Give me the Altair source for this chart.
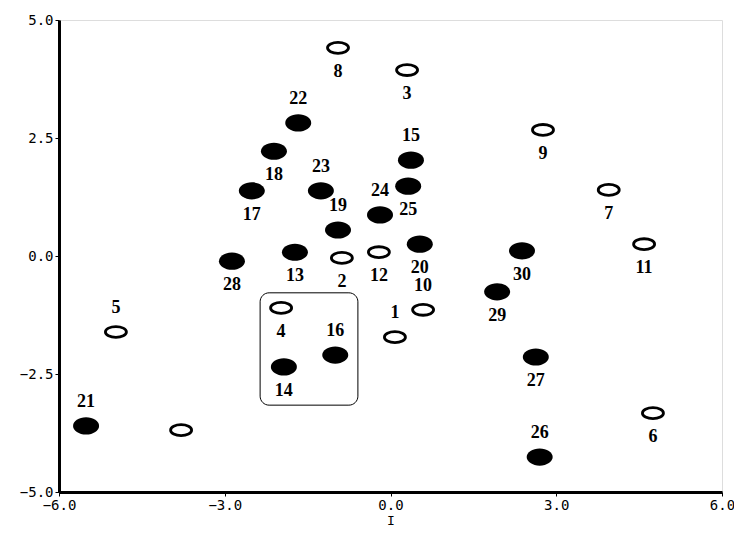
import altair as alt
import pandas as pd

ids = [8, 3, 22, 9, 15, 18, 23, 17, 25, 7, 24, 19, 11, 20, 30, 13, 12, 2, 28, 29,
       4, 10, 5, 1, 16, 27, 14, 6, 21, 0, 26]
xs = [-0.95, 0.30, -1.67, 2.76, 0.37, -2.11, -1.26, -2.51, 0.32, 3.95, -0.19, -0.95,
      4.59, 0.53, 2.38, -1.73, -0.21, -0.88, -2.87, 1.93, -1.98, 0.59, -4.97, 0.08,
      -1.00, 2.63, -1.93, 4.75, -5.51, -3.79, 2.70]
ys = [4.41, 3.94, 2.82, 2.67, 2.03, 2.22, 1.38, 1.38, 1.48, 1.40, 0.87, 0.55,
      0.25, 0.25, 0.11, 0.08, 0.08, -0.04, -0.11, -0.76, -1.10, -1.14, -1.61, -1.72,
      -2.10, -2.14, -2.35, -3.33, -3.60, -3.69, -4.26]
filled = [False, False, True, False, True, True, True, True, True, False, True, True,
          False, True, True, True, False, False, True, True, False, False, False, False,
          True, True, True, False, True, False, True]
label_pos = ["below", "below", "above", "below", "above", "below", "above", "below", "below",
             "below", "above", "above", "below", "below", "below", "below", "below", "below",
             "below", "below", "below", "above", "above", "above", "above", "below", "below",
             "below", "above", "none", "above"]

box_x = [-2.36, -0.59]
box_y = [-3.16, -0.78]

x_ticks = [-6.0, -3.0, 0.0, 3.0, 6.0]
y_ticks = [-5.0, -2.5, 0.0, 2.5, 5.0]

df = pd.DataFrame({"id": ids, "x": xs, "y": ys, "filled": filled, "pos": label_pos})
df["label"] = df["id"].apply(lambda v: "" if v == 0 else str(v))
box = pd.DataFrame({"x": [box_x[0]], "x2": [box_x[1]], "y": [box_y[0]], "y2": [box_y[1]]})

xscale = alt.Scale(domain=[-6, 6], nice=False, zero=False)
yscale = alt.Scale(domain=[-5, 5], nice=False, zero=False)

axis_font = "DejaVu Sans Mono"
xaxis = alt.Axis(values=x_ticks, format=".1f", title="I", grid=False, domainColor="black",
                 domainWidth=3, tickColor="black", tickSize=4, labelFont=axis_font,
                 labelFontSize=14, labelColor="black", labelPadding=2, titleFont=axis_font,
                 titleFontSize=13, titleFontWeight="normal", titleColor="black",
                 titlePadding=2, labelFlush=False)
yaxis = alt.Axis(values=y_ticks, format=".1f", title=None, grid=False, domainColor="black",
                 domainWidth=3, tickColor="black", tickSize=4, labelFont=axis_font,
                 labelFontSize=14, labelColor="black", labelPadding=2, labelFlush=False)

base = alt.Chart(df)

open_path = "M-1,0 A1,0.52 0 1,1 1,0 A1,0.52 0 1,1 -1,0 Z"
fill_path = "M-1,0 A1,0.66 0 1,1 1,0 A1,0.66 0 1,1 -1,0 Z"

open_pts = base.transform_filter("!datum.filled").mark_point(
    shape=open_path, size=441, filled=False, stroke="black", strokeWidth=2.8, opacity=1
).encode(x=alt.X("x:Q", scale=xscale, axis=xaxis), y=alt.Y("y:Q", scale=yscale, axis=yaxis))

fill_pts = base.transform_filter("datum.filled").mark_point(
    shape=fill_path, size=676, filled=True, fill="black", stroke=None, opacity=1
).encode(x=alt.X("x:Q", scale=xscale), y=alt.Y("y:Q", scale=yscale))

label_font = "Liberation Serif"
above = base.transform_filter("datum.pos == 'above'").mark_text(
    font=label_font, fontSize=18, fontWeight="bold", color="black", dy=-24, baseline="middle"
).encode(x=alt.X("x:Q", scale=xscale), y=alt.Y("y:Q", scale=yscale), text="label:N")

below = base.transform_filter("datum.pos == 'below'").mark_text(
    font=label_font, fontSize=18, fontWeight="bold", color="black", dy=24, baseline="middle"
).encode(x=alt.X("x:Q", scale=xscale), y=alt.Y("y:Q", scale=yscale), text="label:N")

box_mark = alt.Chart(box).mark_rect(
    fill=None, stroke="black", strokeWidth=1, cornerRadius=9
).encode(x=alt.X("x:Q", scale=xscale), x2="x2:Q", y=alt.Y("y:Q", scale=yscale), y2="y2:Q")

chart = alt.layer(box_mark, open_pts, fill_pts, above, below).properties(
    width=663, height=472,
    autosize=alt.AutoSizeParams(type="none"),
    padding={"left": 51, "top": 12, "right": 12, "bottom": 36},
).configure_view(stroke="black", strokeWidth=2).configure(background="white")

chart.save("out.html", embed_options={"renderer": "svg", "actions": False})
